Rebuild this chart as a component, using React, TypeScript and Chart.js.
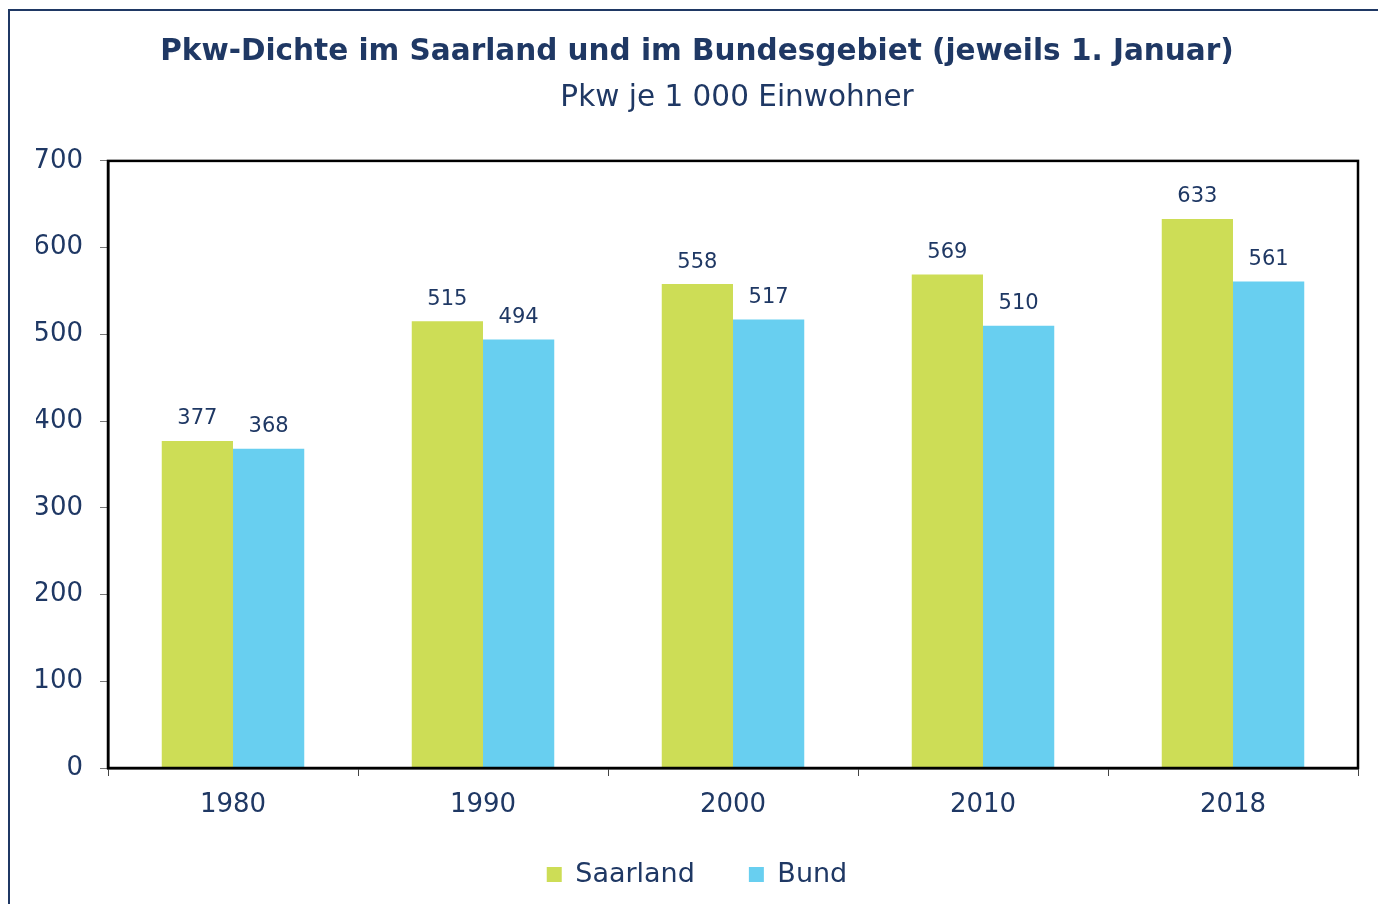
import React, { useEffect, useRef } from "react";
import { Chart, registerables } from "chart.js";

Chart.register(...registerables);

const categories = ["1980", "1990", "2000", "2010", "2018"];
const saarland = [377, 515, 558, 569, 633];
const bund = [368, 494, 517, 510, 561];
const seriesNames = ["Saarland", "Bund"];
const titleText = "Pkw-Dichte im Saarland und im Bundesgebiet (jeweils 1. Januar)";
const subtitleText = "Pkw je 1 000 Einwohner";

const NAVY = "#1f3864";
const FONT = "'DejaVu Sans', Verdana, sans-serif";

const frameAreaPlugin = {
  id: "frameArea",
  afterDatasetsDraw(chart: any) {
    const { ctx, chartArea } = chart;
    ctx.save();
    ctx.strokeStyle = "#000";
    ctx.lineWidth = 2.5;
    ctx.strokeRect(chartArea.left, chartArea.top, chartArea.right - chartArea.left, chartArea.bottom - chartArea.top);
    ctx.restore();
  },
};

const subtitlePlugin = {
  id: "customSubtitle",
  afterDraw(chart: any) {
    const { ctx } = chart;
    ctx.save();
    ctx.font = `29.5px ${FONT}`;
    ctx.fillStyle = NAVY;
    ctx.textAlign = "center";
    ctx.textBaseline = "middle";
    ctx.fillText(subtitleText, 737, 98);
    ctx.restore();
  },
};

const valueLabelPlugin = {
  id: "valueLabels",
  afterDatasetsDraw(chart: any) {
    const { ctx } = chart;
    ctx.save();
    ctx.font = `21px ${FONT}`;
    ctx.fillStyle = NAVY;
    ctx.textAlign = "center";
    ctx.textBaseline = "middle";
    chart.data.datasets.forEach((ds: any, i: number) => {
      const meta = chart.getDatasetMeta(i);
      meta.data.forEach((el: any, j: number) => {
        ctx.fillText(String(ds.data[j]), el.x, el.y - 22);
      });
    });
    ctx.restore();
  },
};

export default function App() {
  const ref = useRef<HTMLCanvasElement>(null);
  useEffect(() => {
    if (!ref.current) return;
    const chart = new Chart(ref.current, {
      type: "bar",
      data: {
        labels: categories,
        datasets: [
          { label: seriesNames[0], data: saarland, backgroundColor: "#cddd56" },
          { label: seriesNames[1], data: bund, backgroundColor: "#68cff0" },
        ],
      },
      options: {
        animation: false,
        responsive: false,
        maintainAspectRatio: false,
        layout: { padding: { left: 36, right: 20, top: 0, bottom: 6 } },
        datasets: { bar: { barPercentage: 1, categoryPercentage: 0.57 } } as any,
        plugins: {
          title: {
            display: true,
            text: titleText,
            color: NAVY,
            font: { family: FONT, size: 29.5, weight: "bold" },
            padding: { top: 35, bottom: 90.5 },
          },
          legend: {
            position: "bottom",
            labels: {
              color: NAVY,
              font: { family: FONT, size: 27 },
              boxWidth: 15,
              boxHeight: 15,
              padding: 54,
            },
          },
          tooltip: { enabled: false },
        },
        scales: {
          x: {
            grid: { display: true, drawOnChartArea: false, drawTicks: true, tickLength: 8, color: "#444", offset: true },
            border: { display: true, color: "#000", width: 2.5 },
            ticks: { color: NAVY, font: { family: FONT, size: 26 }, padding: 14 },
            afterFit(scale: any) {
              scale.height = 39;
              scale._computeLabelArea = () => undefined;
            },
          },
          y: {
            min: 0,
            max: 700,
            grid: { display: true, drawOnChartArea: false, drawTicks: true, tickLength: 8, color: "#777" },
            border: { display: true, color: "#000", width: 2.5 },
            ticks: { stepSize: 100, color: NAVY, font: { family: FONT, size: 26 }, padding: 17 },
            afterFit(scale: any) {
              scale.width = 72;
            },
          },
        },
      },
      plugins: [frameAreaPlugin, valueLabelPlugin, subtitlePlugin],
    });
    return () => chart.destroy();
  }, []);

  return (
    <div style={{ position: "fixed", left: 0, top: 0, width: 1378, height: 904, overflow: "hidden", background: "#fff" }}>
      <div
        style={{
          position: "absolute",
          left: 8,
          top: 9,
          width: 1400,
          height: 1000,
          border: `2px solid ${NAVY}`,
          boxSizing: "border-box",
        }}
      />
      <canvas ref={ref} width={1378} height={904} style={{ position: "absolute", left: 0, top: 0, width: 1378, height: 904 }} />
    </div>
  );
}
